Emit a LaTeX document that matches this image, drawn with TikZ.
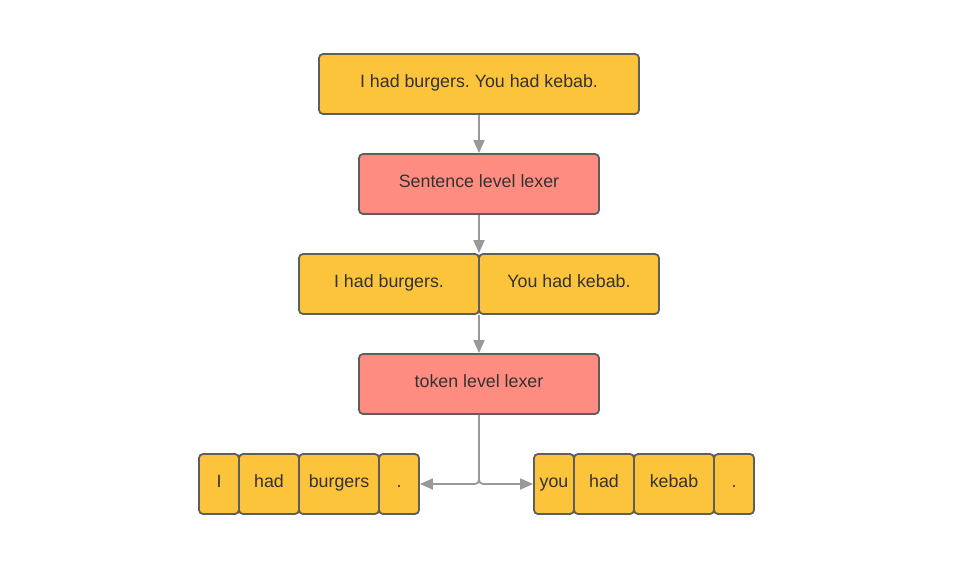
\documentclass[tikz,border=0pt]{standalone}
\usepackage{fontspec}
\setmainfont{Liberation Sans}
\usetikzlibrary{arrows.meta}
\definecolor{boxyellow}{HTML}{FCC43A}
\definecolor{boxred}{HTML}{FF8C80}
\definecolor{boxline}{HTML}{5E5E5E}
\definecolor{wire}{HTML}{999999}
\definecolor{ink}{HTML}{333333}
\frenchspacing
\tikzset{
  box/.style={draw=boxline, line width=1.8pt, rounded corners=4pt, inner sep=0pt,
    minimum height=60pt, text height=12pt, text depth=6pt, text=ink,
    font=\fontsize{17.8}{20}\selectfont},
  text box/.style={box, fill=boxyellow},
  lexer box/.style={box, fill=boxred, minimum width=240pt},
  wire/.style={draw=wire, line width=1.8pt, -{Triangle[length=13pt,width=11pt]}, rounded corners=4pt}
}
\def\midx{479}

\begin{document}
\begin{tikzpicture}[x=1pt, y=-1pt]
            \useasboundingbox (0,0) rectangle (955,570);

            \node[text box, minimum width=320pt] (A) at (\midx, 84) {I had burgers. You had kebab.};
            \node[lexer box] (S) at (\midx, 184) {Sentence level lexer};

            \node[text box, minimum width=180pt] (s1) at (389, 284) {I had burgers.};
            \node[text box, minimum width=180pt] (s2) at (569, 284) {You had kebab.};

            \node[lexer box] (T) at (\midx, 384) {token level lexer};

            % first sentence, one box per token
            \node[text box, minimum width=40pt] (t1) at (219, 484) {I};
            \node[text box, minimum width=60pt] (t2) at (269, 484) {had};
            \node[text box, minimum width=80pt] (t3) at (339, 484) {burgers};
            \node[text box, minimum width=40pt] (t4) at (399, 484) {.};

            % second sentence
            \node[text box, minimum width=40pt] (u1) at (554, 484) {you};
            \node[text box, minimum width=60pt] (u2) at (604, 484) {had};
            \node[text box, minimum width=80pt] (u3) at (674, 484) {kebab};
            \node[text box, minimum width=40pt] (u4) at (734, 484) {.};

            \draw[wire] (A) -- (S);
            \draw[wire] (S) -- (S |- s1.north);
            \draw[wire] (T |- s1.south) -- (T);
            \draw[wire] (T) |- (t4);
            \draw[wire] (T) |- (u1);
        \end{tikzpicture}
\end{document}
